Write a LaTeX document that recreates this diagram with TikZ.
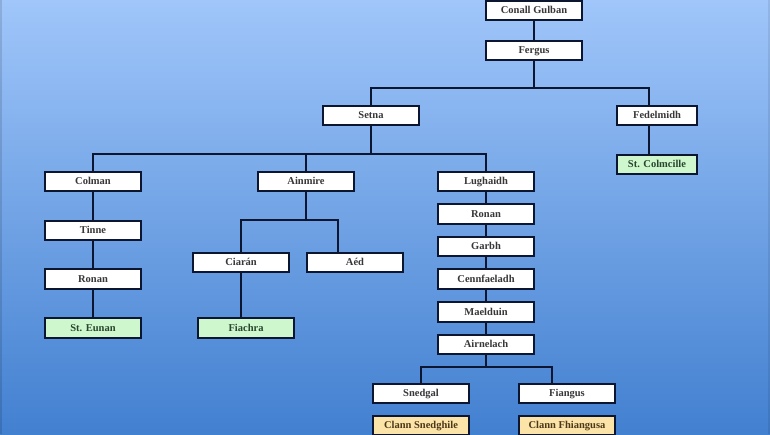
\documentclass[tikz,border=0pt]{standalone}
\usepackage{fontspec}
\setmainfont{Liberation Serif}
\usetikzlibrary{shadows}
\definecolor{bgtop}{RGB}{160,198,250}
\definecolor{bgbot}{RGB}{66,128,208}
\definecolor{linecol}{RGB}{12,22,48}
\definecolor{saintfill}{RGB}{206,247,206}
\definecolor{clannfill}{RGB}{252,228,168}
\definecolor{txtgray}{RGB}{55,55,55}
\definecolor{txtgreen}{RGB}{40,70,45}
\definecolor{txtbrown}{RGB}{75,55,25}
\tikzset{
  person/.style={draw=linecol, line width=1.6pt, fill=white, text=txtgray,
    minimum width=96pt, minimum height=19.5pt, inner sep=0pt,
    text height=8pt, text depth=1.8pt,
    font=\fontsize{10.5}{12}\selectfont\bfseries,
    drop shadow={opacity=0.2, shadow xshift=1pt, shadow yshift=-1pt}},
  saint/.style={person, fill=saintfill, text=txtgreen},
  clann/.style={person, fill=clannfill, text=txtbrown},
  narrow/.style={minimum width=80pt}
}
\begin{document}
\begin{tikzpicture}[x=1pt,y=-1pt]
      \useasboundingbox (0,0) rectangle (770,434);
      \clip (0,0) rectangle (770,434);
      \fill[top color=bgtop, bottom color=bgbot] (0,0) rectangle (770,434);
      \fill[black, opacity=0.12] (0,0) rectangle (2,434);
      \fill[black, opacity=0.08] (768,0) rectangle (770,434);
      \node[person] (conall) at (534,10.5) {Conall Gulban};
      \node[person] (fergus) at (534,50.5) {Fergus};
      \node[person] (setna) at (371,115.5) {Setna};
      \node[person, narrow] (fedelmidh) at (657,115.5) {Fedelmidh};
      \node[saint, narrow] (colmcille) at (657,164.5) {St. Colmcille};
      \node[person] (colman) at (93,181.5) {Colman};
      \node[person] (ainmire) at (306,181.5) {Ainmire};
      \node[person] (lughaidh) at (486,181.5) {Lughaidh};
      \node[person] (tinne) at (93,230.5) {Tinne};
      \node[person] (ronanA) at (93,279) {Ronan};
      \node[saint] (eunan) at (93,328) {St. Eunan};
      \node[person] (ciaran) at (241,262.5) {Ciarán};
      \node[person] (aed) at (355,262.5) {Aéd};
      \node[saint] (fiachra) at (246,328) {Fiachra};
      \node[person] (ronanB) at (486,214) {Ronan};
      \node[person] (garbh) at (486,246.5) {Garbh};
      \node[person] (cennfaeladh) at (486,279) {Cennfaeladh};
      \node[person] (maelduin) at (486,312) {Maelduin};
      \node[person] (airnelach) at (486,344.5) {Airnelach};
      \node[person] (snedgal) at (421,393.5) {Snedgal};
      \node[person] (fiangus) at (567,393.5) {Fiangus};
      \node[clann] (snedghile) at (421,425.5) {Clann Snedghile};
      \node[clann] (fhiangusa) at (567,425.5) {Clann Fhiangusa};
      \coordinate (j1) at (534,88);
      \coordinate (j2) at (371,154);
      \coordinate (j3) at (306,220);
      \coordinate (j4) at (486,367);
      \begin{scope}[draw=linecol, line width=1.8pt]
        \draw (conall) to (fergus);
        \draw (fergus) to (j1);
        \draw (setna.north) |- (j1) -| ([xshift=-8pt]fedelmidh.north);
        \draw ([xshift=-8pt]fedelmidh.south) to ([xshift=-8pt]colmcille.north);
        \draw (setna) to (j2);
        \draw (colman.north) |- (j2) -| (lughaidh.north);
        \draw (ainmire.north) to (ainmire.north |- j2);
        \draw (ainmire) to (j3);
        \draw (ciaran.north) |- (j3) -| ([xshift=-17pt]aed.north);
        \draw (ciaran.south) to (ciaran.south |- fiachra.north);
        \draw (airnelach) to (j4);
        \draw (snedgal.north) |- (j4) -| ([xshift=-15pt]fiangus.north);
        \foreach \a/\b in {colman/tinne, tinne/ronanA, ronanA/eunan,
            lughaidh/ronanB, ronanB/garbh, garbh/cennfaeladh,
            cennfaeladh/maelduin, maelduin/airnelach}
          \draw (\a) to (\b);
      \end{scope}
    \end{tikzpicture}
\end{document}
